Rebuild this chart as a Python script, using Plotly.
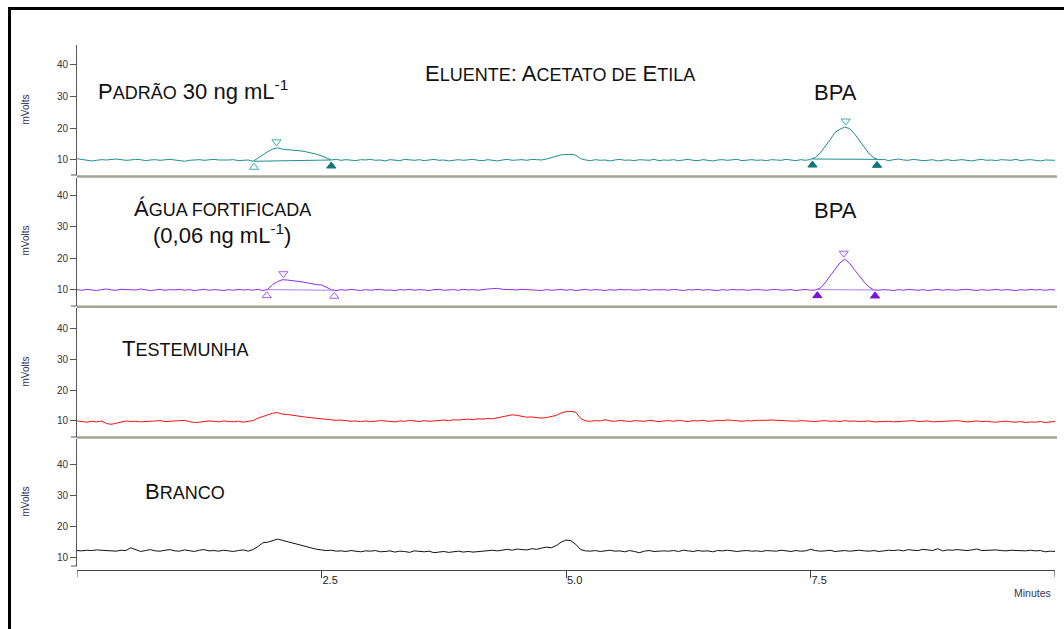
import plotly.graph_objects as go

# ---------------- data ----------------
TIME_STEP = 0.05  # minutes between samples, 0 .. 10 min

padrao = [
    10.4, 10.2, 10.0, 9.7, 9.9, 10.1, 10.0, 10.2, 10.3, 10.1, 9.9, 10.0, 10.2, 10.1, 9.8, 10.0, 10.1, 9.9, 10.0, 10.2,
    10.0, 9.8, 9.6, 9.9, 10.0, 10.1, 9.9, 10.0, 10.2, 10.0, 9.9, 10.0, 10.1, 9.8, 9.9, 10.0, 9.6, 10.6, 11.8, 12.6,
    13.4, 13.8, 13.4, 13.3, 13.1, 12.9, 12.8, 12.5, 12.2, 11.8, 11.3, 10.6, 10.0, 10.2, 9.9, 10.1, 10.0, 9.8, 10.1, 10.0,
    10.2, 9.9, 10.0, 9.7, 10.1, 10.0, 9.8, 10.2, 10.0, 9.9, 10.1, 9.8, 10.0, 10.2, 9.9, 10.0, 9.7, 10.0, 10.1, 9.9,
    10.0, 10.2, 9.9, 9.8, 10.1, 10.0, 9.7, 10.0, 10.2, 9.9, 10.0, 10.1, 9.9, 10.2, 10.1, 10.0, 10.3, 10.8, 11.3, 11.6,
    11.7, 11.8, 11.5, 10.4, 10.0, 9.8, 10.1, 9.9, 10.0, 9.7, 10.0, 10.2, 9.9, 10.0, 9.8, 10.1, 10.0, 9.9, 10.2, 9.8,
    10.0, 9.9, 10.1, 9.8, 10.0, 10.2, 9.9, 9.8, 10.1, 10.0, 9.7, 10.0, 10.1, 9.9, 10.0, 10.2, 9.8, 10.0, 10.1, 9.9,
    10.0, 9.8, 10.1, 10.0, 9.9, 10.2, 10.0, 9.8, 10.1, 9.9, 10.2, 10.8, 12.2, 14.2, 16.3, 18.6, 19.6, 20.3, 19.8, 18.2,
    16.0, 13.7, 11.9, 10.6, 10.1, 10.2, 9.8, 10.1, 10.3, 10.0, 9.9, 10.2, 10.0, 9.8, 9.9, 10.1, 9.7, 10.0, 10.1, 9.8,
    10.0, 10.1, 9.9, 9.7, 10.0, 10.2, 9.9, 10.0, 9.8, 10.1, 10.0, 9.9, 10.2, 9.8, 10.0, 10.1, 9.9, 9.7, 10.0, 9.9, 9.9,
]

agua = [
    9.8, 9.6, 9.9, 9.7, 9.5, 9.8, 10.0, 9.7, 9.6, 9.9, 9.8, 9.6, 9.7, 10.0, 9.8, 9.5, 9.7, 9.9, 9.6, 9.8,
    9.7, 9.9, 9.6, 9.8, 9.5, 9.7, 9.9, 9.6, 9.8, 9.7, 9.5, 9.8, 9.6, 9.9, 9.7, 9.8, 9.6, 9.9, 9.5, 9.9,
    11.4, 12.4, 13.0, 12.9, 12.6, 12.5, 12.3, 12.0, 11.6, 11.4, 11.3, 10.5, 9.8, 9.5, 9.8, 9.6, 9.9, 9.7, 9.5, 9.8,
    9.6, 9.8, 9.9, 9.6, 9.7, 9.5, 9.8, 9.7, 9.9, 9.6, 9.8, 9.7, 9.5, 9.8, 9.9, 9.6, 9.7, 9.8, 9.6, 9.9,
    9.7, 9.8, 9.6, 9.9, 10.0, 10.1, 10.2, 9.9, 9.8, 9.6, 9.7, 9.9, 9.8, 9.6, 9.7, 9.5, 9.8, 9.6, 9.7, 9.9,
    9.6, 9.8, 9.5, 9.7, 9.9, 9.6, 9.8, 9.7, 9.5, 9.8, 9.6, 9.9, 9.7, 9.8, 9.6, 9.7, 9.9, 9.6, 9.8, 9.7,
    9.8, 9.6, 9.9, 9.7, 9.5, 9.8, 9.7, 9.9, 9.6, 9.8, 9.7, 9.5, 9.8, 9.6, 9.9, 9.7, 9.8, 9.6, 9.7, 9.9,
    9.7, 9.6, 9.8, 9.9, 9.6, 9.7, 9.8, 9.5, 9.7, 9.9, 9.6, 9.7, 10.3, 12.0, 14.2, 16.5, 18.4, 19.6, 18.3, 16.2,
    14.2, 12.2, 10.6, 9.7, 9.6, 9.8, 9.7, 9.5, 9.8, 9.6, 9.9, 9.7, 9.6, 9.8, 9.5, 9.7, 9.9, 9.6, 9.8, 9.7,
    9.6, 9.8, 9.9, 9.7, 9.5, 9.8, 9.6, 9.7, 9.9, 9.6, 9.8, 9.7, 9.5, 9.8, 9.6, 9.9, 9.7, 9.8, 9.6, 9.8, 9.7,
]

testemunha = [
    10.0, 9.8, 9.6, 9.9, 9.7, 10.0, 9.2, 8.9, 9.3, 9.8, 10.0, 9.8, 9.9, 9.7, 9.8, 10.0, 9.9, 10.1, 9.8, 9.9,
    10.0, 10.1, 10.2, 9.8, 9.5, 9.6, 9.8, 10.0, 9.9, 9.7, 10.0, 9.8, 9.7, 9.9, 9.6, 9.9, 10.1, 10.9, 11.4, 11.8,
    12.5, 12.7, 12.2, 12.1, 11.8, 11.7, 11.4, 11.2, 11.0, 10.8, 10.6, 10.5, 10.4, 10.2, 10.3, 10.1, 9.9, 10.0, 9.8, 10.0,
    9.8, 9.9, 10.1, 10.0, 9.8, 9.7, 10.0, 9.9, 10.2, 10.0, 9.8, 10.1, 9.9, 10.0, 10.2, 10.3, 10.1, 10.4, 10.3, 10.5,
    10.6, 10.4, 10.7, 10.6, 10.8, 10.7, 11.0, 11.2, 11.5, 12.0, 11.8, 11.4, 11.2, 11.3, 11.0, 10.9, 11.1, 11.4, 11.8, 12.6,
    13.0, 13.1, 12.8, 10.8, 10.0, 9.9, 10.1, 10.0, 10.4, 10.0, 9.9, 10.2, 10.0, 9.8, 10.1, 10.0, 9.9, 10.2, 10.0, 9.8,
    10.0, 10.1, 9.9, 10.2, 10.0, 9.8, 10.1, 10.0, 10.2, 9.9, 10.0, 10.2, 10.1, 10.3, 10.2, 10.0, 9.9, 10.1, 10.0, 10.2,
    10.1, 10.2, 10.3, 10.2, 10.1, 10.0, 9.8, 9.9, 10.1, 10.0, 9.7, 9.8, 10.0, 10.1, 9.9, 10.0, 9.8, 10.1, 9.9, 10.0,
    9.8, 9.9, 10.0, 9.7, 9.8, 10.0, 9.9, 9.7, 9.8, 10.0, 9.9, 10.1, 9.8, 9.9, 10.0, 9.7, 9.8, 9.7, 9.8, 10.0,
    10.1, 9.9, 9.7, 9.8, 10.0, 9.8, 9.9, 9.7, 9.6, 9.8, 9.9, 9.7, 9.6, 9.8, 9.5, 9.7, 9.6, 9.8, 9.5, 9.7, 9.8,
]

branco = [
    12.3, 12.2, 12.4, 12.3, 12.5, 12.4, 12.2, 12.3, 12.1, 12.4, 12.3, 13.2, 12.5, 12.0, 12.3, 12.6, 12.2, 12.1, 12.4, 12.6,
    12.2, 12.1, 12.5, 12.3, 12.0, 12.4, 12.6, 12.2, 12.3, 12.1, 12.4, 12.2, 12.0, 12.3, 12.5, 12.1, 12.6, 13.6, 14.8, 15.0,
    15.5, 16.0, 15.6, 15.2, 14.7, 14.3, 13.8, 13.4, 13.0, 12.7, 12.5, 12.3, 12.4, 12.1, 12.2, 12.0, 12.3, 12.1, 11.9, 12.2,
    12.1, 12.3, 11.9, 12.0, 12.2, 11.8, 12.1, 12.0, 11.7, 12.2, 12.0, 11.9, 12.1, 11.6, 11.8, 12.0, 11.7, 11.9, 12.1, 11.8,
    12.0, 11.8, 11.9, 12.1, 12.3, 12.4, 12.2, 12.5, 12.7, 12.4, 12.8, 12.6, 12.5, 12.9, 12.7, 13.1, 13.4, 13.2, 13.9, 15.0,
    15.7, 15.5, 14.3, 12.6, 12.2, 12.1, 12.3, 12.0, 12.2, 12.4, 12.1, 12.2, 11.9, 12.3, 12.0, 11.6, 12.1, 12.3, 12.0, 12.2,
    12.2, 12.1, 12.3, 12.0, 12.4, 12.2, 12.0, 12.3, 12.1, 12.2, 11.9, 12.3, 12.2, 12.4, 12.1, 12.0, 12.2, 12.3, 12.1, 12.2,
    12.0, 12.3, 12.2, 12.1, 12.4, 12.2, 12.0, 12.3, 12.1, 12.2, 12.7, 12.3, 12.1, 12.2, 12.4, 12.0, 12.2, 12.3, 12.1, 12.2,
    12.4, 12.2, 12.1, 12.3, 12.0, 12.2, 12.4, 12.3, 12.5, 12.2, 12.6, 12.4, 12.3, 12.7, 12.5, 12.3, 12.9, 12.2, 12.5, 12.4,
    12.6, 12.4, 12.3, 12.5, 12.8, 12.3, 12.4, 12.6, 12.5, 12.3, 12.2, 12.4, 12.3, 12.1, 12.2, 12.4, 12.2, 12.3, 11.9, 12.1, 12.0,
]

# integrated peaks: (start time, start value, apex time, apex value, end time, end value)
padrao_peaks = [(1.81, 9.6, 2.04, 13.8, 2.60, 10.0), (7.52, 10.3, 7.86, 20.3, 8.18, 10.2)]
agua_peaks = [(1.94, 9.8, 2.11, 13.0, 2.63, 9.6), (7.57, 9.8, 7.84, 19.6, 8.16, 9.7)]
# marker style of (start, end) for each peak: True = filled
padrao_filled = [(False, True), (True, True)]
agua_filled = [(False, False), (True, True)]

y_ticks = [10, 20, 30, 40]
x_ticks = [2.5, 5.0, 7.5]
x_tick_text = ["2.5", "5.0", "7.5"]
x_end_ticks = [0, 10]

# ---------------- layout geometry ----------------
W, H = 1064, 629
X_LEFT, X_RIGHT = 77, 1055
X_AXIS_PX = 570
# panel: (top px, bottom px, range bottom, range top)
panels = [
    (45, 175, 5.31, 45.94),
    (178, 306, 4.52, 45.8),
    (308, 437, 4.8, 46.6),
    (439, 566, 7.3, 48.4),
]
FONT = "Liberation Sans, Arial, sans-serif"


def px_x(p):
    return p / W


def px_y(p):
    return 1 - p / H


fig = go.Figure()

series = [padrao, agua, testemunha, branco]
colors = ["#1e8e8e", "#8f2cf0", "#ff1010", "#111111"]

for i, (vals, col) in enumerate(zip(series, colors)):
    ya = "y" if i == 0 else f"y{i+1}"
    times = [round(k * TIME_STEP, 2) for k in range(len(vals))]
    fig.add_trace(go.Scatter(x=times, y=vals, mode="lines", xaxis="x", yaxis=ya,
                             line=dict(color=col, width=1), hoverinfo="skip"))


def add_peaks(panel_idx, peaks, filled, open_col, fill_col, base_col):
    top, bot, r0, r1 = panels[panel_idx]
    ppu = (bot - top) / (r1 - r0)
    off = 6.0 / ppu
    ya = "y" if panel_idx == 0 else f"y{panel_idx+1}"
    for (ts, vs, ta, va, te, ve), (fs, fe) in zip(peaks, filled):
        fig.add_trace(go.Scatter(x=[ts, te], y=[vs, ve], mode="lines", xaxis="x", yaxis=ya,
                                 line=dict(color=base_col, width=1), hoverinfo="skip"))
        fig.add_trace(go.Scatter(x=[ta], y=[va + off], mode="markers", xaxis="x", yaxis=ya,
                                 marker=dict(symbol="triangle-down-open", size=8, color=open_col,
                                             line=dict(width=1, color=open_col)), hoverinfo="skip"))
        for t, v, f in ((ts, vs, fs), (te, ve, fe)):
            fig.add_trace(go.Scatter(x=[t], y=[v - off], mode="markers", xaxis="x", yaxis=ya,
                                     marker=dict(symbol="triangle-up" if f else "triangle-up-open", size=8,
                                                 color=fill_col if f else open_col,
                                                 line=dict(width=1, color=fill_col if f else open_col)),
                                     hoverinfo="skip"))


add_peaks(0, padrao_peaks, padrao_filled, "#3aaeae", "#0f7878", "#1e8e8e")
add_peaks(1, agua_peaks, agua_filled, "#a55cf5", "#7a10e0", "#b07cf7")

layout = dict(
    width=W, height=H, margin=dict(l=0, r=0, t=0, b=0),
    paper_bgcolor="white", plot_bgcolor="white", showlegend=False,
    font=dict(family=FONT, color="#222"),
    xaxis=dict(domain=[px_x(X_LEFT), px_x(X_RIGHT)], range=[0, 10], anchor="free",
               position=px_y(X_AXIS_PX), showline=True, linecolor="#444", linewidth=1,
               ticks="outside", ticklen=7, tickcolor="#444", tickvals=x_ticks, ticktext=x_tick_text,
               ticklabelposition="outside right", tickfont=dict(size=11, color="#222"),
               showgrid=False, zeroline=False, fixedrange=True),
)
for i, (top, bot, r0, r1) in enumerate(panels):
    key = "yaxis" if i == 0 else f"yaxis{i+1}"
    layout[key] = dict(domain=[px_y(bot), px_y(top)], range=[r0, r1], anchor="x",
                       showline=True, linecolor="#555", linewidth=1, ticks="outside", ticklen=6,
                       tickcolor="#555", tickvals=y_ticks, ticktext=[str(v) for v in y_ticks],
                       tickfont=dict(size=10, color="#3a3030"), showgrid=False, zeroline=False,
                       fixedrange=True)

shapes = []
# black frame (left and top)
shapes.append(dict(type="line", xref="paper", yref="paper", x0=px_x(9.5), x1=px_x(9.5),
                   y0=px_y(7.5), y1=-0.05, line=dict(color="black", width=3)))
shapes.append(dict(type="line", xref="paper", yref="paper", x0=px_x(8), x1=1.05,
                   y0=px_y(8.5), y1=px_y(8.5), line=dict(color="black", width=3)))
# gray separators
for yp in (176.5, 306.8, 437.5):
    shapes.append(dict(type="line", xref="paper", yref="paper", x0=px_x(X_LEFT), x1=px_x(1057),
                       y0=px_y(yp), y1=px_y(yp), line=dict(color="#a6a292", width=2.5)))
# small end-cap ticks at the bottom of each y axis
for top, bot, r0, r1 in panels:
    shapes.append(dict(type="line", xref="paper", yref="paper", x0=px_x(X_LEFT - 6), x1=px_x(X_LEFT),
                       y0=px_y(bot), y1=px_y(bot), line=dict(color="#555", width=1)))
# end ticks of the time axis (0 and 10 min)
for t in x_end_ticks:
    shapes.append(dict(type="line", xref="x", yref="paper", x0=t, x1=t,
                       y0=px_y(X_AXIS_PX), y1=px_y(X_AXIS_PX + 7), line=dict(color="#444", width=1)))
layout["shapes"] = shapes

SC = "<span style='font-size:18px'>{}</span>"
ann = []


def label(text, xp, yp, size=22, xanchor="left"):
    ann.append(dict(text=text, xref="paper", yref="paper", x=px_x(xp), y=px_y(yp),
                    xanchor=xanchor, yanchor="middle", showarrow=False,
                    font=dict(family=FONT, size=size, color="#111")))


label("E" + SC.format("LUENTE") + ": A" + SC.format("CETATO DE") + " E" + SC.format("TILA"), 423, 73)
label("P" + SC.format("ADRÃO") + " 30 ng mL<sup>-1</sup>", 96, 90)
label("BPA", 835, 93, xanchor="center")
label("Á" + SC.format("GUA FORTIFICADA"), 222, 209, xanchor="center")
label("(0,06 ng mL<sup>-1</sup>)", 222, 234, xanchor="center")
label("BPA", 835, 211, xanchor="center")
label("T" + SC.format("ESTEMUNHA"), 120, 349)
label("B" + SC.format("RANCO"), 143, 491)

for yc in (110, 241, 372, 502):
    ann.append(dict(text="mVolts", xref="paper", yref="paper", x=px_x(24.5), y=px_y(yc),
                    xanchor="center", yanchor="middle", textangle=-90, showarrow=False,
                    font=dict(family=FONT, size=10, color="#2a3366")))
ann.append(dict(text="Minutes", xref="paper", yref="paper", x=px_x(1032), y=px_y(593),
                xanchor="center", yanchor="middle", showarrow=False,
                font=dict(family=FONT, size=10.5, color="#333355")))
layout["annotations"] = ann

fig.update_layout(**layout)
fig.write_html("out.html", config={"displayModeBar": False})
